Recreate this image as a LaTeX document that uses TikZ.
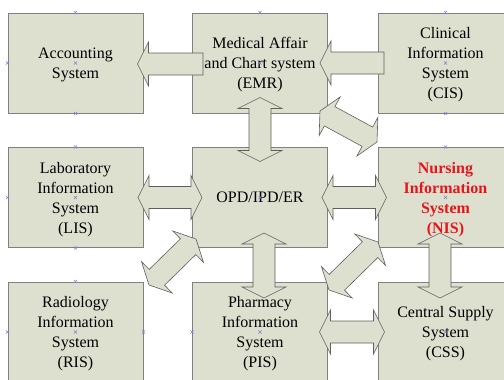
\documentclass[tikz,border=0pt]{standalone}
\usepackage{fontspec}
\setmainfont{Liberation Serif}
\usetikzlibrary{calc}

\definecolor{boxfill}{RGB}{221,224,206}
\definecolor{boxline}{RGB}{128,128,128}
\definecolor{arrowline}{RGB}{95,95,95}
\definecolor{nisred}{RGB}{232,20,28}
\definecolor{handlecol}{RGB}{130,130,215}

\tikzset{
  sysbox/.style={draw=boxline, line width=1pt, fill=boxfill,
    minimum width=135pt, minimum height=100pt, inner sep=0pt, text depth=0pt,
    align=center, font=\fontsize{16}{20}\selectfont},
  arrowbox/.style={draw=arrowline, line width=0.6pt, fill=boxfill, line join=miter},
  handle/.style={draw=handlecol, line width=0.5pt}
}

% double-headed block arrow between two tips
\newcommand\dblarrow[2]{%
  \path ($(#1)!11pt!(#2)$) coordinate (da-p) ($(#2)!11pt!(#1)$) coordinate (da-q);
  \draw[arrowbox] (#1) -- ($(da-p)!22pt!90:(#2)$) -- ($(da-p)!11pt!90:(#2)$)
    -- ($(da-q)!11pt!-90:(#1)$) -- ($(da-q)!22pt!-90:(#1)$) -- (#2)
    -- ($(da-q)!22pt!90:(#1)$) -- ($(da-q)!11pt!90:(#1)$)
    -- ($(da-p)!11pt!-90:(#2)$) -- ($(da-p)!22pt!-90:(#2)$) -- cycle;}

% single-headed block arrow: tip, tail
\newcommand\sglarrow[2]{%
  \path ($(#1)!11pt!(#2)$) coordinate (sa-p);
  \draw[arrowbox] (#1) -- ($(sa-p)!22pt!90:(#2)$) -- ($(sa-p)!11pt!90:(#2)$)
    -- ($(#2)!11pt!-90:(#1)$) -- ($(#2)!11pt!90:(#1)$)
    -- ($(sa-p)!11pt!-90:(#2)$) -- ($(sa-p)!22pt!-90:(#2)$) -- cycle;}

% small selection cross
\newcommand\hmark[1]{\draw[handle] ($(#1)+(-1.6,-1.6)$) -- ($(#1)+(1.6,1.6)$)
  ($(#1)+(-1.6,1.6)$) -- ($(#1)+(1.6,-1.6)$);}

\begin{document}
\begin{tikzpicture}[x=1pt, y=-1pt]
\useasboundingbox (0,0) rectangle (504,380);
\clip (0,0) rectangle (504,380);

% systems
\node[sysbox] (acc) at (75.5,63)  {Accounting\\System};
\node[sysbox] (emr) at (260,63)   {Medical Affair\\and Chart system\\(EMR)};
\node[sysbox] (cis) at (445.5,63) {Clinical\\Information\\System\\(CIS)};
\node[sysbox] (lis) at (75.5,197.5) {Laboratory\\Information\\System\\(LIS)};
\node[sysbox] (opd) at (260,197.5)  {OPD/IPD/ER};
\node[sysbox, text=nisred, font=\fontsize{16}{20}\selectfont\bfseries] (nis) at (445.5,197.5)
  {Nursing\\Information\\System\\(NIS)};
\node[sysbox] (ris) at (75.5,332) {Radiology\\Information\\System\\(RIS)};
\node[sysbox] (pis) at (260,332)  {Pharmacy\\Information\\System\\(PIS)};
\node[sysbox] (css) at (445.5,332) {Central Supply\\System\\(CSS)};

% arrow end points
\coordinate (accIn)  at ($(acc.east)+(-6,1)$);
\coordinate (emrOut) at ($(emr.west)+(11,1)$);
\coordinate (emrIn)  at ($(emr.east)+(-8,0)$);
\coordinate (cisOut) at ($(cis.west)+(6.5,0)$);
\coordinate (emrS)   at ($(emr.south)+(0,-16)$);
\coordinate (opdN)   at ($(opd.north)+(0,14.5)$);
\coordinate (emrSE)  at (320,111);
\coordinate (nisNW)  at (377,142);
\coordinate (lisE)   at ($(lis.east)+(-5.5,0)$);
\coordinate (opdW)   at ($(opd.west)+(10,0)$);
\coordinate (opdE)   at ($(opd.east)+(-6,0)$);
\coordinate (nisW)   at ($(nis.west)+(9,0)$);
\coordinate (risNE)  at (149,285);
\coordinate (opdSW)  at (196,239);
\coordinate (opdS)   at (264,233);
\coordinate (pisN)   at (264,298);
\coordinate (nisS)   at (440,233);
\coordinate (cssN)   at (440,298);
\coordinate (pisNE)  at (329,290);
\coordinate (nisSW)  at (378,242);
\coordinate (pisE)   at ($(pis.east)+(-8.5,0)$);
\coordinate (cssW)   at ($(css.west)+(7,0)$);

% connectors
\sglarrow{accIn}{emrOut}
\sglarrow{emrIn}{cisOut}
\dblarrow{emrS}{opdN}
\dblarrow{emrSE}{nisNW}
\dblarrow{lisE}{opdW}
\dblarrow{opdE}{nisW}
\dblarrow{risNE}{opdSW}
\dblarrow{opdS}{pisN}
\dblarrow{nisS}{cssN}
\dblarrow{pisNE}{nisSW}
\dblarrow{pisE}{cssW}

% selection handles
\hmark{acc.north} \hmark{acc.west} \hmark{acc.center} \hmark{acc.south}
\hmark{emr.north} \hmark{emr.center}
\hmark{cis.north} \hmark{cis.center} \hmark{cis.south}
\hmark{lis.north} \hmark{lis.west} \hmark{lis.center} \hmark{lis.south}
\hmark{opd.center}
\hmark{nis.north} \hmark{nis.center}
\hmark{ris.north} \hmark{ris.west} \hmark{ris.center} \hmark{ris.east}
\hmark{pis.west} \hmark{pis.center}
\hmark{css.center}
\end{tikzpicture}
\end{document}
